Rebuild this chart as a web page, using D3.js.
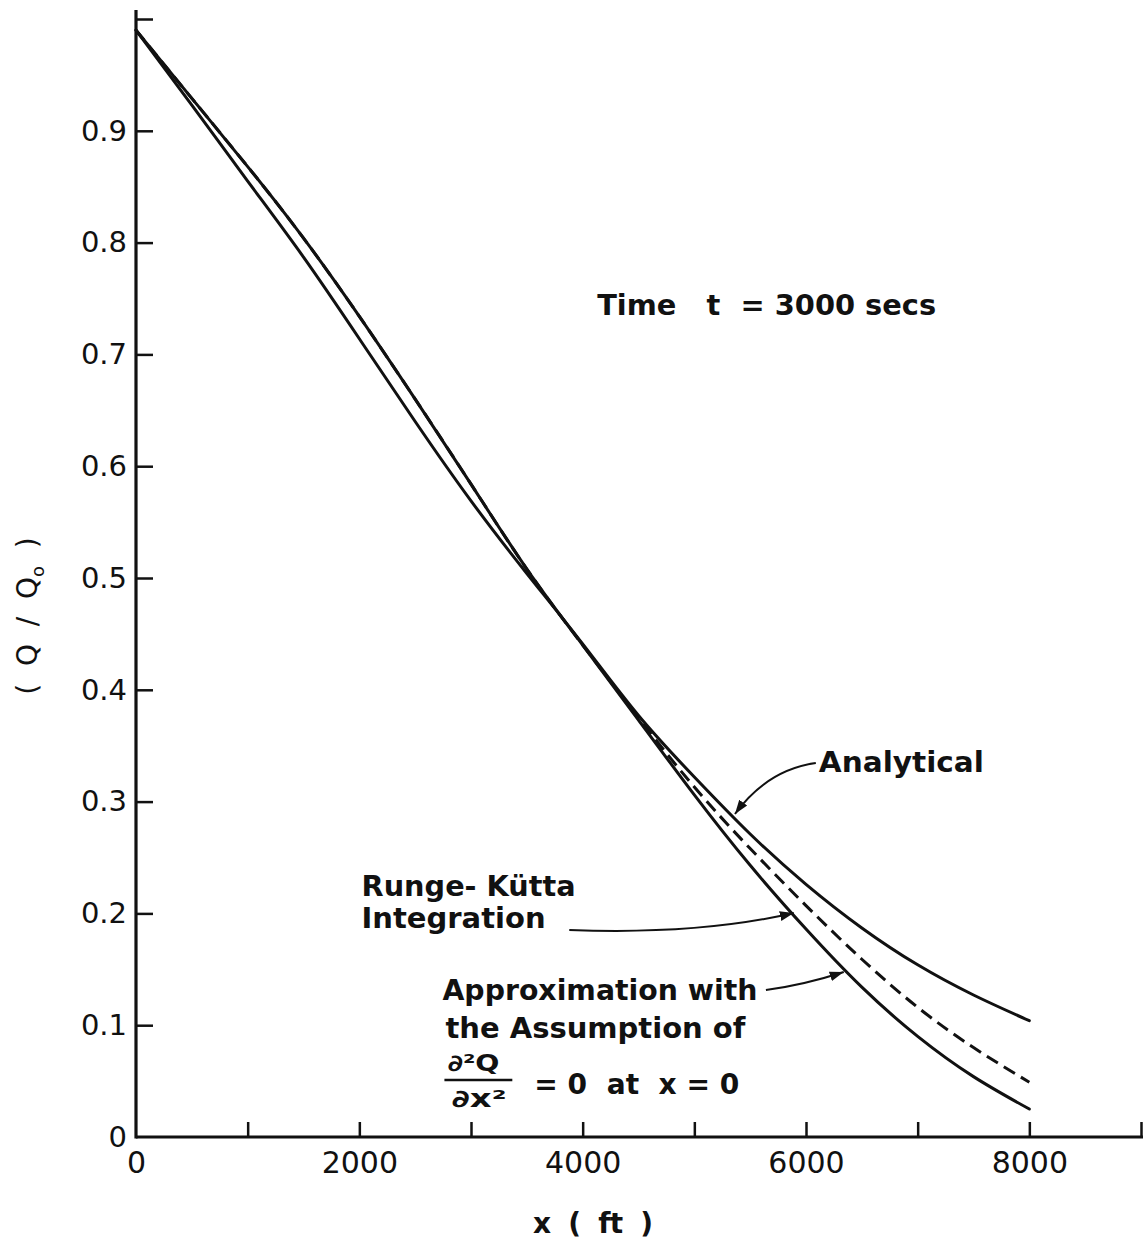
<!DOCTYPE html>
<html>
<head>
<meta charset="utf-8">
<script src="https://cdn.jsdelivr.net/npm/d3@7"></script>
<style>
  html, body { margin: 0; padding: 0; background: #fff; }
  svg { display: block; }
  text { font-family: "DejaVu Sans", sans-serif; fill: #111; white-space: pre; }
</style>
</head>
<body>
<svg id="chart" width="1144" height="1241"></svg>
<script>
// ---- data ----
const xValues = [0, 500, 1000, 1500, 2000, 2500, 3000, 3500, 4000, 4500, 5000, 5500, 6000, 6500, 7000, 7500, 8000];
const analytical    = [0.99, 0.923, 0.855, 0.787, 0.714, 0.640, 0.569, 0.504, 0.441, 0.377, 0.322, 0.271, 0.226, 0.187, 0.154, 0.127, 0.104];
const rungeKutta    = [0.99, 0.929, 0.868, 0.804, 0.734, 0.660, 0.584, 0.508, 0.440, 0.375, 0.313, 0.258, 0.207, 0.159, 0.116, 0.080, 0.049];
const approximation = [0.99, 0.929, 0.868, 0.804, 0.734, 0.660, 0.584, 0.508, 0.440, 0.373, 0.306, 0.243, 0.186, 0.134, 0.090, 0.054, 0.025];

const xTicks = [0, 1000, 2000, 3000, 4000, 5000, 6000, 7000, 8000, 9000];
const xTickLabels = ["0", "", "2000", "", "4000", "", "6000", "", "8000", ""];
const yTicks = [0, 0.1, 0.2, 0.3, 0.4, 0.5, 0.6, 0.7, 0.8, 0.9, 1.0];
const yTickLabels = ["0", "0.1", "0.2", "0.3", "0.4", "0.5", "0.6", "0.7", "0.8", "0.9", ""];

const xTitle = "x  (  ft  )";
const timeLabel = "Time   t  = 3000 secs";

// annotation anchors in data units
const textNotes = [
  { t: "Analytical",         x: 6115, y: 0.3265, w: 165 },
  { t: "Runge- Kütta",       x: 2020, y: 0.2156, w: 214 },
  { t: "Integration",        x: 2020, y: 0.1869, w: 184 },
  { t: "Approximation with", x: 2744, y: 0.1225, w: 315 },
  { t: "the Assumption of",  x: 2771, y: 0.0885, w: 300 },
  { t: "= 0  at  x = 0",     x: 3567, y: 0.0385, w: 205 }
];
const leaders = [
  { from: [6088, 0.3345], ctrl: [5650, 0.3283], to: [5364, 0.2889] },
  { from: [3880, 0.1852], ctrl: [5042, 0.1807], to: [5891, 0.2004] },
  { from: [5641, 0.1315], ctrl: [5981, 0.1360], to: [6338, 0.1476] }
];

// ---- drawing ----
const svg = d3.select("#chart");
const x = d3.scaleLinear().domain([0, 9000]).range([136, 1141]);
const y = d3.scaleLinear().domain([0, 1]).range([1137, 19]);

const defs = svg.append("defs");
defs.append("marker")
  .attr("id", "arrow").attr("viewBox", "0 0 10 10")
  .attr("refX", 10).attr("refY", 5)
  .attr("markerWidth", 14).attr("markerHeight", 14)
  .attr("markerUnits", "userSpaceOnUse")
  .attr("orient", "auto")
  .append("path").attr("d", "M0,1.5 L10,5 L0,8.5 Z").attr("fill", "#111");

// axes
const xAxis = d3.axisBottom(x)
  .tickValues(xTicks)
  .tickFormat((d, i) => xTickLabels[i])
  .tickSizeInner(-15).tickSizeOuter(0).tickPadding(15);
const gx = svg.append("g").attr("transform", `translate(0,${y(0)})`).call(xAxis);
gx.select(".domain").remove();
gx.selectAll(".tick line").attr("stroke", "#111").attr("stroke-width", 2.5);
gx.selectAll(".tick text").attr("font-size", 30).attr("font-family", "DejaVu Sans, sans-serif").attr("fill", "#111");
gx.selectAll(".tick").filter(d => d === 0).select("line").remove();

const yAxis = d3.axisLeft(y)
  .tickValues(yTicks)
  .tickFormat((d, i) => yTickLabels[i])
  .tickSizeInner(-17).tickSizeOuter(0).tickPadding(9);
const gy = svg.append("g").attr("transform", `translate(${x(0)},0)`).call(yAxis);
gy.select(".domain").remove();
gy.selectAll(".tick line").attr("stroke", "#111").attr("stroke-width", 2.5);
gy.selectAll(".tick text").attr("font-size", 29).attr("font-family", "DejaVu Sans, sans-serif").attr("fill", "#111");
gy.selectAll(".tick").filter(d => d === 0).select("line").remove();

// axis lines
svg.append("line").attr("x1", x(0)).attr("x2", x(9000) + 2)
  .attr("y1", y(0)).attr("y2", y(0)).attr("stroke", "#111").attr("stroke-width", 3.2);
svg.append("line").attr("x1", x(0)).attr("x2", x(0))
  .attr("y1", y(0) + 1.5).attr("y2", y(1.008)).attr("stroke", "#111").attr("stroke-width", 3.2);

// curves
const line = d3.line().x((d, i) => x(xValues[i])).y(d => y(d)).curve(d3.curveNatural);
svg.append("path").datum(rungeKutta).attr("d", line)
  .attr("fill", "none").attr("stroke", "#111").attr("stroke-width", 3)
  .attr("stroke-dasharray", "13,7");
svg.append("path").datum(analytical).attr("d", line)
  .attr("fill", "none").attr("stroke", "#111").attr("stroke-width", 3).attr("stroke-linecap", "round");
svg.append("path").datum(approximation).attr("d", line)
  .attr("fill", "none").attr("stroke", "#111").attr("stroke-width", 3).attr("stroke-linecap", "round");

// axis titles
svg.append("text").attr("x", 593).attr("y", 1233).attr("text-anchor", "middle")
  .attr("font-size", 28).attr("font-weight", "bold").attr("textLength", 120).attr("lengthAdjust", "spacing")
  .text(xTitle);

const yt = svg.append("text")
  .attr("transform", "translate(37,616) rotate(-90)")
  .attr("text-anchor", "middle").attr("font-size", 28);
yt.append("tspan").text("(  Q  /  Q");
yt.append("tspan").attr("font-size", 18).attr("dy", 7).text("o");
yt.append("tspan").attr("dy", -7).text("  )");

// time label
svg.append("text").attr("x", x(4130)).attr("y", y(0.7352))
  .attr("font-size", 29).attr("font-weight", "bold")
  .attr("textLength", 339).attr("lengthAdjust", "spacingAndGlyphs")
  .text(timeLabel);

// annotation texts
svg.selectAll("text.note").data(textNotes).enter().append("text")
  .attr("class", "note")
  .attr("x", d => x(d.x)).attr("y", d => y(d.y))
  .attr("font-size", 28).attr("font-weight", "bold")
  .attr("textLength", d => d.w).attr("lengthAdjust", "spacingAndGlyphs")
  .text(d => d.t);

// fraction d2Q/dx2
svg.append("text").attr("x", x(2789)).attr("y", y(0.0590))
  .attr("font-size", 23).attr("font-weight", "bold")
  .attr("textLength", 52).attr("lengthAdjust", "spacingAndGlyphs").text("∂²Q");
svg.append("line").attr("x1", x(2762)).attr("x2", x(3370))
  .attr("y1", y(0.051)).attr("y2", y(0.051)).attr("stroke", "#111").attr("stroke-width", 2.5);
svg.append("text").attr("x", x(2825)).attr("y", y(0.0268))
  .attr("font-size", 24).attr("font-weight", "bold")
  .attr("textLength", 55).attr("lengthAdjust", "spacingAndGlyphs").text("∂x²");

// leader lines with arrows
svg.selectAll("path.leader").data(leaders).enter().append("path")
  .attr("class", "leader")
  .attr("d", d => `M${x(d.from[0])},${y(d.from[1])} Q${x(d.ctrl[0])},${y(d.ctrl[1])} ${x(d.to[0])},${y(d.to[1])}`)
  .attr("fill", "none").attr("stroke", "#111").attr("stroke-width", 2)
  .attr("marker-end", "url(#arrow)");
</script>
</body>
</html>
